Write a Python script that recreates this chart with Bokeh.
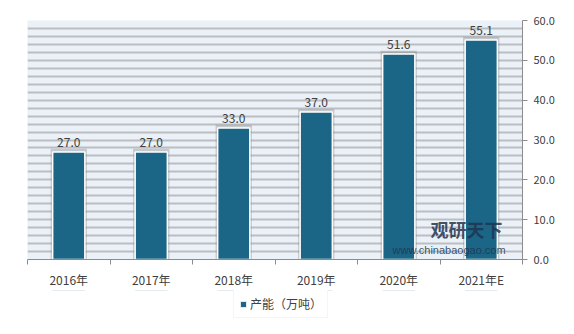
from bokeh.plotting import figure
from bokeh.layouts import column
from bokeh.models import (ColumnDataSource, FixedTicker, NumeralTickFormatter, Range1d,
                          Legend, LegendItem, Label, SingleIntervalTicker)
from bokeh.embed import file_html
from bokeh.resources import INLINE
from bokeh.core.properties import value

years = ["2016年", "2017年", "2018年", "2019年", "2020年", "2021年E"]
capacity = [27.0, 27.0, 33.0, 37.0, 51.6, 55.1]
series_name = "产能（万吨）"
y_ticks = [0, 10, 20, 30, 40, 50, 60]

FONT = "Noto Sans CJK SC"
BAR = "#1B6587"
TXT = "#404040"

xs = [i + 0.5 for i in range(len(years))]
src = ColumnDataSource(dict(
    x=xs, top=capacity,
    shadow_top=[v + 0.8 for v in capacity],
    label=[f"{v:.1f}" for v in capacity],
))

p = figure(width=574, height=290, output_backend="svg", toolbar_location=None,
           x_range=Range1d(0, len(years)), y_range=Range1d(0, 60),
           y_axis_location="right",
           min_border_left=27, min_border_right=52, min_border_top=20, min_border_bottom=29)
p.background_fill_color = "#EAF1F8"
p.border_fill_color = "white"
p.outline_line_color = None

# gridlines
p.xgrid.visible = False
p.ygrid.ticker = SingleIntervalTicker(interval=2)
p.ygrid.grid_line_color = "#BDBDBD"
p.ygrid.grid_line_width = 2

# bar shadow
p.vbar(x="x", top="shadow_top", width=0.44, bottom=0, source=src,
       fill_color="#7F7F7F", fill_alpha=0.35, line_color=None)
r = p.vbar(x="x", top="top", width=0.39, bottom=0, source=src,
           fill_color=BAR, line_color="white", line_width=1.5)
p.text(x="x", y="top", text="label", source=src, text_align="center",
       text_baseline="bottom", y_offset=-5, text_font=value(FONT),
       text_font_size="12px", text_color=TXT)

# x axis
p.xaxis.ticker = FixedTicker(ticks=xs, minor_ticks=list(range(len(years) + 1)))
p.xaxis.major_label_overrides = {x: y for x, y in zip(xs, years)}
p.xaxis.major_tick_out = 0
p.xaxis.major_tick_in = 0
p.xaxis.minor_tick_out = 5
p.xaxis.minor_tick_in = 0
p.xaxis.minor_tick_line_color = "#8C8C8C"
p.xaxis.axis_line_color = "#8C8C8C"
p.xaxis.major_label_text_font = FONT
p.xaxis.major_label_text_font_size = "12px"
p.xaxis.major_label_text_color = TXT
p.xaxis.major_label_standoff = 6

# y axis (right)
p.yaxis.ticker = FixedTicker(ticks=y_ticks)
p.yaxis.formatter = NumeralTickFormatter(format="0.0")
p.yaxis.major_tick_out = 5
p.yaxis.major_tick_in = 0
p.yaxis.minor_tick_out = 0
p.yaxis.minor_tick_in = 0
p.yaxis.axis_line_color = "#8C8C8C"
p.yaxis.major_tick_line_color = "#8C8C8C"
p.yaxis.major_label_text_font = FONT
p.yaxis.major_label_text_font_size = "11px"
p.yaxis.major_label_text_color = TXT
p.yaxis.major_label_standoff = 6

# watermark
p.add_layout(Label(x=403, y=18, x_units="screen", y_units="screen", text="观研天下",
                   text_font=FONT, text_font_style="bold", text_font_size="18px",
                   text_color="#1F3550", text_alpha=0.85))
p.add_layout(Label(x=365, y=4, x_units="screen", y_units="screen",
                   text="www.chinabaogao.com", text_font="Liberation Sans",
                   text_font_size="11px", text_color="#1F3550", text_alpha=0.85))

# legend strip below the chart (same bars, drawn out of view, only for the legend glyph)
lg = figure(width=574, height=44, output_backend="svg", toolbar_location=None,
            x_range=Range1d(0, len(years)), y_range=Range1d(-2, -1),
            x_axis_location=None, y_axis_location=None,
            min_border_left=0, min_border_right=0, min_border_top=0, min_border_bottom=0)
lg.grid.visible = False
lg.outline_line_color = None
lg.background_fill_color = "white"
lr = lg.vbar(x="x", top="top", bottom=0, width=0.39, source=src,
             fill_color=BAR, line_color="white", line_width=1)
legend = Legend(items=[LegendItem(label=series_name, renderers=[lr])],
                orientation="horizontal", location=(206, 16),
                label_text_font=FONT, label_text_font_size="12px",
                label_text_color=TXT, glyph_width=8, glyph_height=8,
                border_line_color="#EBEBEB", background_fill_color="white",
                padding=5, margin=0, spacing=4, label_standoff=3)
lg.add_layout(legend, "center")

layout = column(p, lg, spacing=0)
open("out.html", "w").write(file_html(layout, INLINE))
